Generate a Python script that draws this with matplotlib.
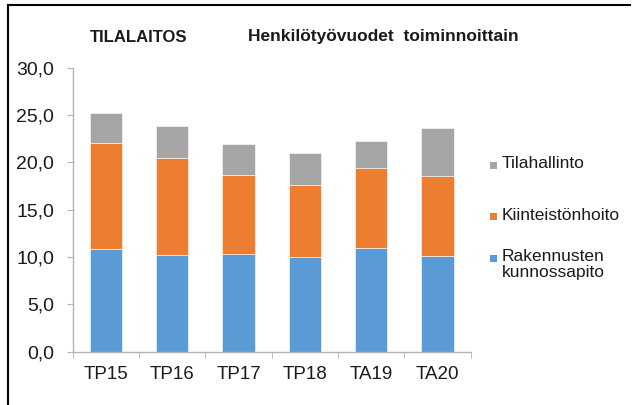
import matplotlib
matplotlib.use("Agg")
import matplotlib.pyplot as plt
from matplotlib.lines import Line2D
from matplotlib.patches import Rectangle
from matplotlib.ticker import FuncFormatter, FixedLocator

plt.rcParams['font.family'] = ['Liberation Sans', 'DejaVu Sans']

# Data
categories = ['TP15', 'TP16', 'TP17', 'TP18', 'TA19', 'TA20']
rakennusten = [10.9, 10.2, 10.3, 10.0, 11.0, 10.1]
kiinteisto = [11.1, 10.3, 8.4, 7.6, 8.4, 8.5]
tilahallinto = [3.2, 3.3, 3.2, 3.4, 2.9, 5.0]

series = [
    ('Rakennusten\nkunnossapito', rakennusten, '#5B9BD5'),
    ('Kiinteistönhoito', kiinteisto, '#ED7D31'),
    ('Tilahallinto', tilahallinto, '#A5A5A5'),
]

W, H = 635, 405
fig = plt.figure(figsize=(W / 100, H / 100), dpi=100)
ax = fig.add_axes([72.7 / W, 1 - 351.7 / H, 398 / W, 284 / H])

x = list(range(len(categories)))
bottom = [0.0] * len(categories)
for name, vals, col in series:
    ax.bar(x, vals, width=0.49, bottom=bottom, color=col,
           edgecolor='white', linewidth=0.4)
    bottom = [b + v for b, v in zip(bottom, vals)]

axis_col = '#B3B3B3'
ax.set_xlim(-0.5, len(categories) - 0.5)
ax.set_ylim(0, 30)
ax.set_yticks([0, 5, 10, 15, 20, 25, 30])
ax.yaxis.set_major_formatter(FuncFormatter(lambda v, p: f'{v:.1f}'.replace('.', ',')))
ax.set_xticks(x)
ax.set_xticklabels(categories)
ax.xaxis.set_minor_locator(FixedLocator([i - 0.5 for i in range(len(categories) + 1)]))

for s in ['top', 'right']:
    ax.spines[s].set_visible(False)
for s in ['left', 'bottom']:
    ax.spines[s].set_color(axis_col)
    ax.spines[s].set_linewidth(1.0)

ax.tick_params(axis='y', length=4.5, color=axis_col, labelsize=14, pad=9,
               labelcolor='#1a1a1a')
ax.tick_params(axis='x', which='major', length=0, labelsize=13.5, pad=10,
               labelcolor='#1a1a1a')
ax.tick_params(axis='x', which='minor', length=4, color=axis_col, direction='out')

# Titles
fig.text(90 / W, 1 - 37 / H, 'TILALAITOS', fontsize=12, fontweight='bold',
         va='center', ha='left', color='#1a1a1a')
fig.text(248 / W, 1 - 37 / H, 'Henkilötyövuodet  toiminnoittain', fontsize=12.5,
         fontweight='bold', va='center', ha='left', color='#1a1a1a')

# Legend (top to bottom: reverse stacking order)
leg_y = [165, 217, 258]
for (name, vals, col), yy in zip(reversed(series), leg_y):
    fig.add_artist(Rectangle((490 / W, 1 - (yy + 3.5) / H), 7 / W, 7 / H,
                             transform=fig.transFigure, color=col, lw=0))
    fig.text(502 / W, 1 - (yy - 9) / H, name, fontsize=12.5, va='top', ha='left',
             linespacing=1.05, color='#1a1a1a')

# Frame lines
fig.add_artist(Line2D([8 / W, 630 / W], [1 - 5 / H, 1 - 5 / H],
                      transform=fig.transFigure, color='black', lw=1.5))
fig.add_artist(Line2D([8 / W, 8 / W], [0, 1 - 5 / H],
                      transform=fig.transFigure, color='black', lw=1.5))

fig.savefig('out.png', dpi=100)
